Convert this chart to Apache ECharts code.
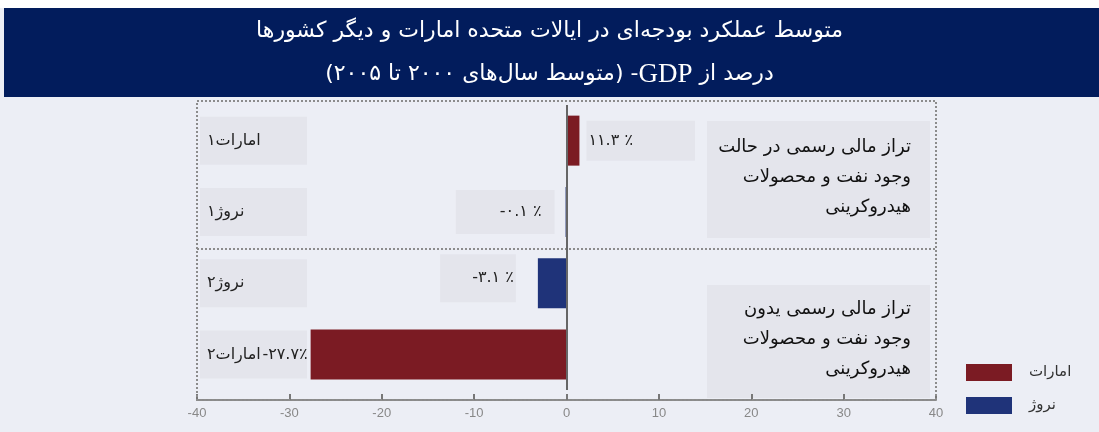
<!DOCTYPE html>
<html>
<head>
<meta charset="utf-8">
<script src="https://cdn.jsdelivr.net/npm/echarts@6/dist/echarts.min.js"></script>
<style>
  html, body { margin: 0; padding: 0; background: #fff; }
  #chart { width: 1099px; height: 432px; }
</style>
</head>
<body>
<div id="chart"></div>
<script>
const categories = ['امارات۱', 'نروژ۱', 'نروژ۲', 'امارات۲']
// bar lengths as drawn in the picture (the first bar is drawn much shorter than its printed label)
const uaeValues = [1.4, '-', '-', -27.7]
const norwayValues = ['-', -0.1, -3.1, '-']
// printed value labels, one per category
const valueLabels = ['۱۱.۳ ٪', '-۰.۱ ٪', '-۳.۱ ٪', '-۲۷.۷٪']
const seriesNames = ['امارات', 'نروژ']
const xMin = -40
const xMax = 40
const xStep = 10

const noteTop = 'تراز مالی رسمی در حالت\nوجود نفت و محصولات\nهیدروکرینی'
const noteBottom = 'تراز مالی رسمی یدون\nوجود نفت و محصولات\nهیدروکرینی'

const FONT = "'DejaVu Sans', sans-serif"
const RED = '#7b1b23'
const BLUE = '#1f3379'
const BOX = '#e4e5ec'

// keep the label glyphs in the order they are printed (left to right)
const ltr = s => '\u202D' + s + '\u202C'

// label placement for each bar (by category index)
const labelStyles = {
    0: { position: 'right', distance: 7, backgroundColor: BOX, padding: [5, 62, 19, 2] },
    1: { position: 'left', distance: 11, backgroundColor: BOX, padding: [15, 13, 13, 44] },
    2: { position: 'left', distance: 22, offset: [0, -5], backgroundColor: BOX, padding: [16, 2, 16, 32] },
    3: { position: 'left', distance: 3 }
}

const toItems = arr => arr.map((v, i) => v === '-' ? '-' : { value: v, label: labelStyles[i] })

const chart = echarts.init(document.getElementById('chart'))

const option = {
    backgroundColor: '#eceef5',
    animation: false,
    title: {
        left: 'center',
        top: 5,
        padding: [5, 0, 5, 12],
        text: '{t|متوسط عملکرد بودجه‌ای در ایالات متحده امارات و دیگر کشورها}\n' +
            '{p|\u200F(متوسط سال‌های ۲۰۰۰ تا ۲۰۰۵)\u200F -}{g|GDP}{p| درصد از}',
        textStyle: {
            fontWeight: 'normal',
            rich: {
                t: { color: '#fff', fontSize: 22, fontWeight: 'normal', fontFamily: FONT, lineHeight: 43 },
                p: { color: '#fff', fontSize: 22, fontWeight: 'normal', fontFamily: FONT, lineHeight: 43 },
                g: { color: '#fff', fontSize: 27, fontWeight: 'normal', fontFamily: "'Liberation Serif', serif", lineHeight: 43 }
            }
        }
    },
    legend: {
        data: seriesNames,
        orient: 'vertical',
        left: 966,
        top: 364,
        padding: 0,
        itemWidth: 46,
        itemHeight: 17,
        itemGap: 16,
        icon: 'rect',
        textStyle: { color: '#333', fontSize: 15, fontFamily: FONT, padding: [0, 0, 0, 12] }
    },
    grid: {
        left: 197,
        right: 163,
        top: 105,
        bottom: 42
    },
    xAxis: {
        type: 'value',
        min: xMin,
        max: xMax,
        interval: xStep,
        offset: 10,
        axisLine: { show: true, lineStyle: { color: '#8a8a8a', width: 2 } },
        axisTick: { show: true, inside: true, length: 6, lineStyle: { color: '#777', width: 2 } },
        axisLabel: { color: '#888', fontSize: 13, margin: 7, fontFamily: "'Liberation Sans', sans-serif" },
        splitLine: { show: false }
    },
    yAxis: {
        type: 'category',
        data: categories,
        inverse: true,
        axisLine: { show: false, onZero: false },
        axisTick: { show: false },
        axisLabel: {
            inside: true,
            margin: 3,
            color: '#222',
            fontSize: 16,
            fontFamily: FONT,
            backgroundColor: BOX,
            width: 100,
            overflow: 'none',
            padding: [18, 0, 14, 7]
        }
    },
    series: [
        {
            name: seriesNames[0],
            type: 'bar',
            stack: 'all',
            barWidth: 50,
            itemStyle: { color: RED },
            data: toItems(uaeValues),
            label: {
                show: true,
                color: '#222',
                fontSize: 16,
                fontFamily: FONT,
                formatter: p => ltr(valueLabels[p.dataIndex])
            },
            markLine: {
                silent: true,
                symbol: 'none',
                label: { show: false },
                lineStyle: { color: '#666', width: 2, type: 'solid' },
                data: [{ xAxis: 0 }]
            }
        },
        {
            name: seriesNames[1],
            type: 'bar',
            stack: 'all',
            barWidth: 50,
            itemStyle: { color: BLUE },
            data: toItems(norwayValues),
            label: {
                show: true,
                color: '#222',
                fontSize: 16,
                fontFamily: FONT,
                formatter: p => ltr(valueLabels[p.dataIndex])
            }
        }
    ],
    graphic: [
        { type: 'rect', z: -1, shape: { x: 0, y: 0, width: 1099, height: 8 }, style: { fill: '#fff' } },
        { type: 'rect', z: -1, shape: { x: 4, y: 8, width: 1095, height: 89 }, style: { fill: '#021c5c' } },
        {
            type: 'rect', z: 1,
            shape: { x: 197, y: 101, width: 739, height: 299 },
            style: { fill: 'none', stroke: '#8c8c8c', lineWidth: 2, lineDash: [2, 2] }
        },
        {
            type: 'line', z: 1,
            shape: { x1: 197, y1: 249, x2: 936, y2: 249 },
            style: { stroke: '#8c8c8c', lineWidth: 2, lineDash: [2, 2] }
        },
        { type: 'rect', z: 0, shape: { x: 707, y: 121, width: 223, height: 117 }, style: { fill: BOX } },
        {
            type: 'text', z: 2,
            style: {
                x: 911, y: 132, text: noteTop, align: 'right', verticalAlign: 'top',
                font: '18px ' + FONT, lineHeight: 30, fill: '#111'
            }
        },
        { type: 'rect', z: 0, shape: { x: 707, y: 285, width: 223, height: 113 }, style: { fill: BOX } },
        {
            type: 'text', z: 2,
            style: {
                x: 911, y: 294, text: noteBottom, align: 'right', verticalAlign: 'top',
                font: '18px ' + FONT, lineHeight: 30, fill: '#111'
            }
        }
    ]
}

chart.setOption(option)
</script>
</body>
</html>
